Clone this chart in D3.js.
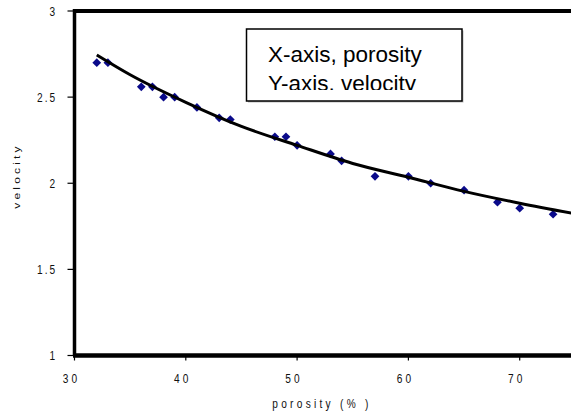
<!DOCTYPE html>
<html>
<head>
<meta charset="utf-8">
<script src="https://cdn.jsdelivr.net/npm/d3@7"></script>
<style>
  html, body { margin: 0; padding: 0; background: #fff; overflow: hidden; }
  svg { display: block; }
  .tick-label { font-family: "Liberation Sans", Arial, sans-serif; font-size: 13px; fill: #111; }
</style>
</head>
<body>
<svg id="chart" width="571" height="415"></svg>
<script>
// Measured samples: porosity (%) and velocity
const porosity = [32, 33, 36, 37, 38, 39, 41, 43, 44, 48, 49, 50, 53, 54, 57, 60, 62, 65, 68, 70, 73];
const velocity = [2.70, 2.70, 2.56, 2.56, 2.50, 2.50, 2.44, 2.38, 2.37, 2.27, 2.27, 2.22, 2.17, 2.13, 2.04, 2.04, 2.00, 1.96, 1.89, 1.855, 1.82];

// Trend curve through the samples
const trendX = [32, 35, 40, 45, 50, 55, 60, 65, 70, 75];
const trendY = [2.745, 2.63, 2.47, 2.33, 2.22, 2.115, 2.035, 1.953, 1.884, 1.822];

// Axis ticks (the 80 tick sits past the visible edge)
const xTicks = [30, 40, 50, 60, 70];
const yTicks = [1, 1.5, 2, 2.5, 3];
const legendLines = ["X-axis, porosity", "Y-axis, velocity"];

const svg = d3.select("#chart");

const x = d3.scaleLinear().domain([30, 80]).range([74.5, 631]);
const y = d3.scaleLinear().domain([1, 3]).range([355.5, 11]);

// Condensed look for the small axis text
const narrow = 0.78;

// Frame: top border and the two axis lines
svg.append("line").attr("x1", x(30)).attr("x2", 571).attr("y1", y(3)).attr("y2", y(3))
  .attr("stroke", "#000").attr("stroke-width", 4);
svg.append("line").attr("x1", x(30)).attr("x2", x(30)).attr("y1", y(3) - 2).attr("y2", y(1))
  .attr("stroke", "#000").attr("stroke-width", 3.5);
svg.append("line").attr("x1", x(30) - 1.5).attr("x2", 571).attr("y1", y(1)).attr("y2", y(1))
  .attr("stroke", "#000").attr("stroke-width", 4.5);

// Y axis ticks and labels
const yAxis = svg.append("g");
yAxis.selectAll("line").data(yTicks).join("line")
  .attr("x1", x(30) - 7).attr("x2", x(30))
  .attr("y1", d => y(d)).attr("y2", d => y(d))
  .attr("stroke", "#000").attr("stroke-width", 1.2);
yAxis.selectAll("text").data(yTicks).join("text")
  .attr("class", "tick-label")
  .attr("transform", d => `translate(57,${y(d)}) scale(${narrow},1)`)
  .attr("dy", "0.36em")
  .attr("text-anchor", "end")
  .style("letter-spacing", "2.5px")
  .text(d => d3.format("~g")(d));

// X axis ticks and labels
const xAxis = svg.append("g");
xAxis.selectAll("line").data(xTicks).join("line")
  .attr("x1", d => x(d)).attr("x2", d => x(d))
  .attr("y1", y(1)).attr("y2", y(1) + 5)
  .attr("stroke", "#000").attr("stroke-width", 1.2);
xAxis.selectAll("text").data(xTicks).join("text")
  .attr("class", "tick-label")
  .attr("transform", d => `translate(${x(d) - 3},383) scale(${narrow},1)`)
  .attr("text-anchor", "middle")
  .style("letter-spacing", "4px")
  .text(d => d);

// Axis titles
svg.append("text").attr("class", "tick-label")
  .attr("transform", `translate(322,408) scale(${narrow},1)`)
  .attr("text-anchor", "middle")
  .style("letter-spacing", "4.2px")
  .text("porosity (% )");
svg.append("text").attr("class", "tick-label")
  .attr("transform", `translate(20,176) rotate(-90) scale(1,${narrow})`)
  .attr("text-anchor", "middle")
  .style("font-size", "12px")
  .style("letter-spacing", "3.2px")
  .text("velocity");

// Data markers
const pts = porosity.map((p, i) => [p, velocity[i]]);
svg.append("g").selectAll("path").data(pts).join("path")
  .attr("transform", d => `translate(${x(d[0])},${y(d[1])}) rotate(45)`)
  .attr("d", d3.symbol(d3.symbolSquare, 38))
  .attr("fill", "#0a0a8a");

// Trend curve
const trend = trendX.map((v, i) => [v, trendY[i]]);
svg.append("path")
  .datum(trend)
  .attr("d", d3.line().x(d => x(d[0])).y(d => y(d[1])).curve(d3.curveMonotoneX))
  .attr("fill", "none").attr("stroke", "#000").attr("stroke-width", 3);

// Legend text box
const box = { x: 246.5, y: 29, w: 215.5, h: 72 };
svg.append("rect").attr("x", box.x + 1.5).attr("y", box.y + 1.5).attr("width", box.w).attr("height", box.h)
  .attr("fill", "#bbb");
svg.append("rect").attr("x", box.x).attr("y", box.y).attr("width", box.w).attr("height", box.h)
  .attr("fill", "#fff").attr("stroke", "#000").attr("stroke-width", 1.5);
svg.append("clipPath").attr("id", "legend-clip")
  .append("rect").attr("x", box.x).attr("y", box.y).attr("width", box.w).attr("height", 61);
svg.append("g").attr("clip-path", "url(#legend-clip)")
  .selectAll("text").data(legendLines).join("text")
  .attr("x", 268).attr("y", (d, i) => 61.5 + i * 29.5)
  .style("font-family", "'Liberation Sans', Arial, sans-serif")
  .style("font-size", "22.5px")
  .attr("fill", "#000")
  .text(d => d);
</script>
</body>
</html>
